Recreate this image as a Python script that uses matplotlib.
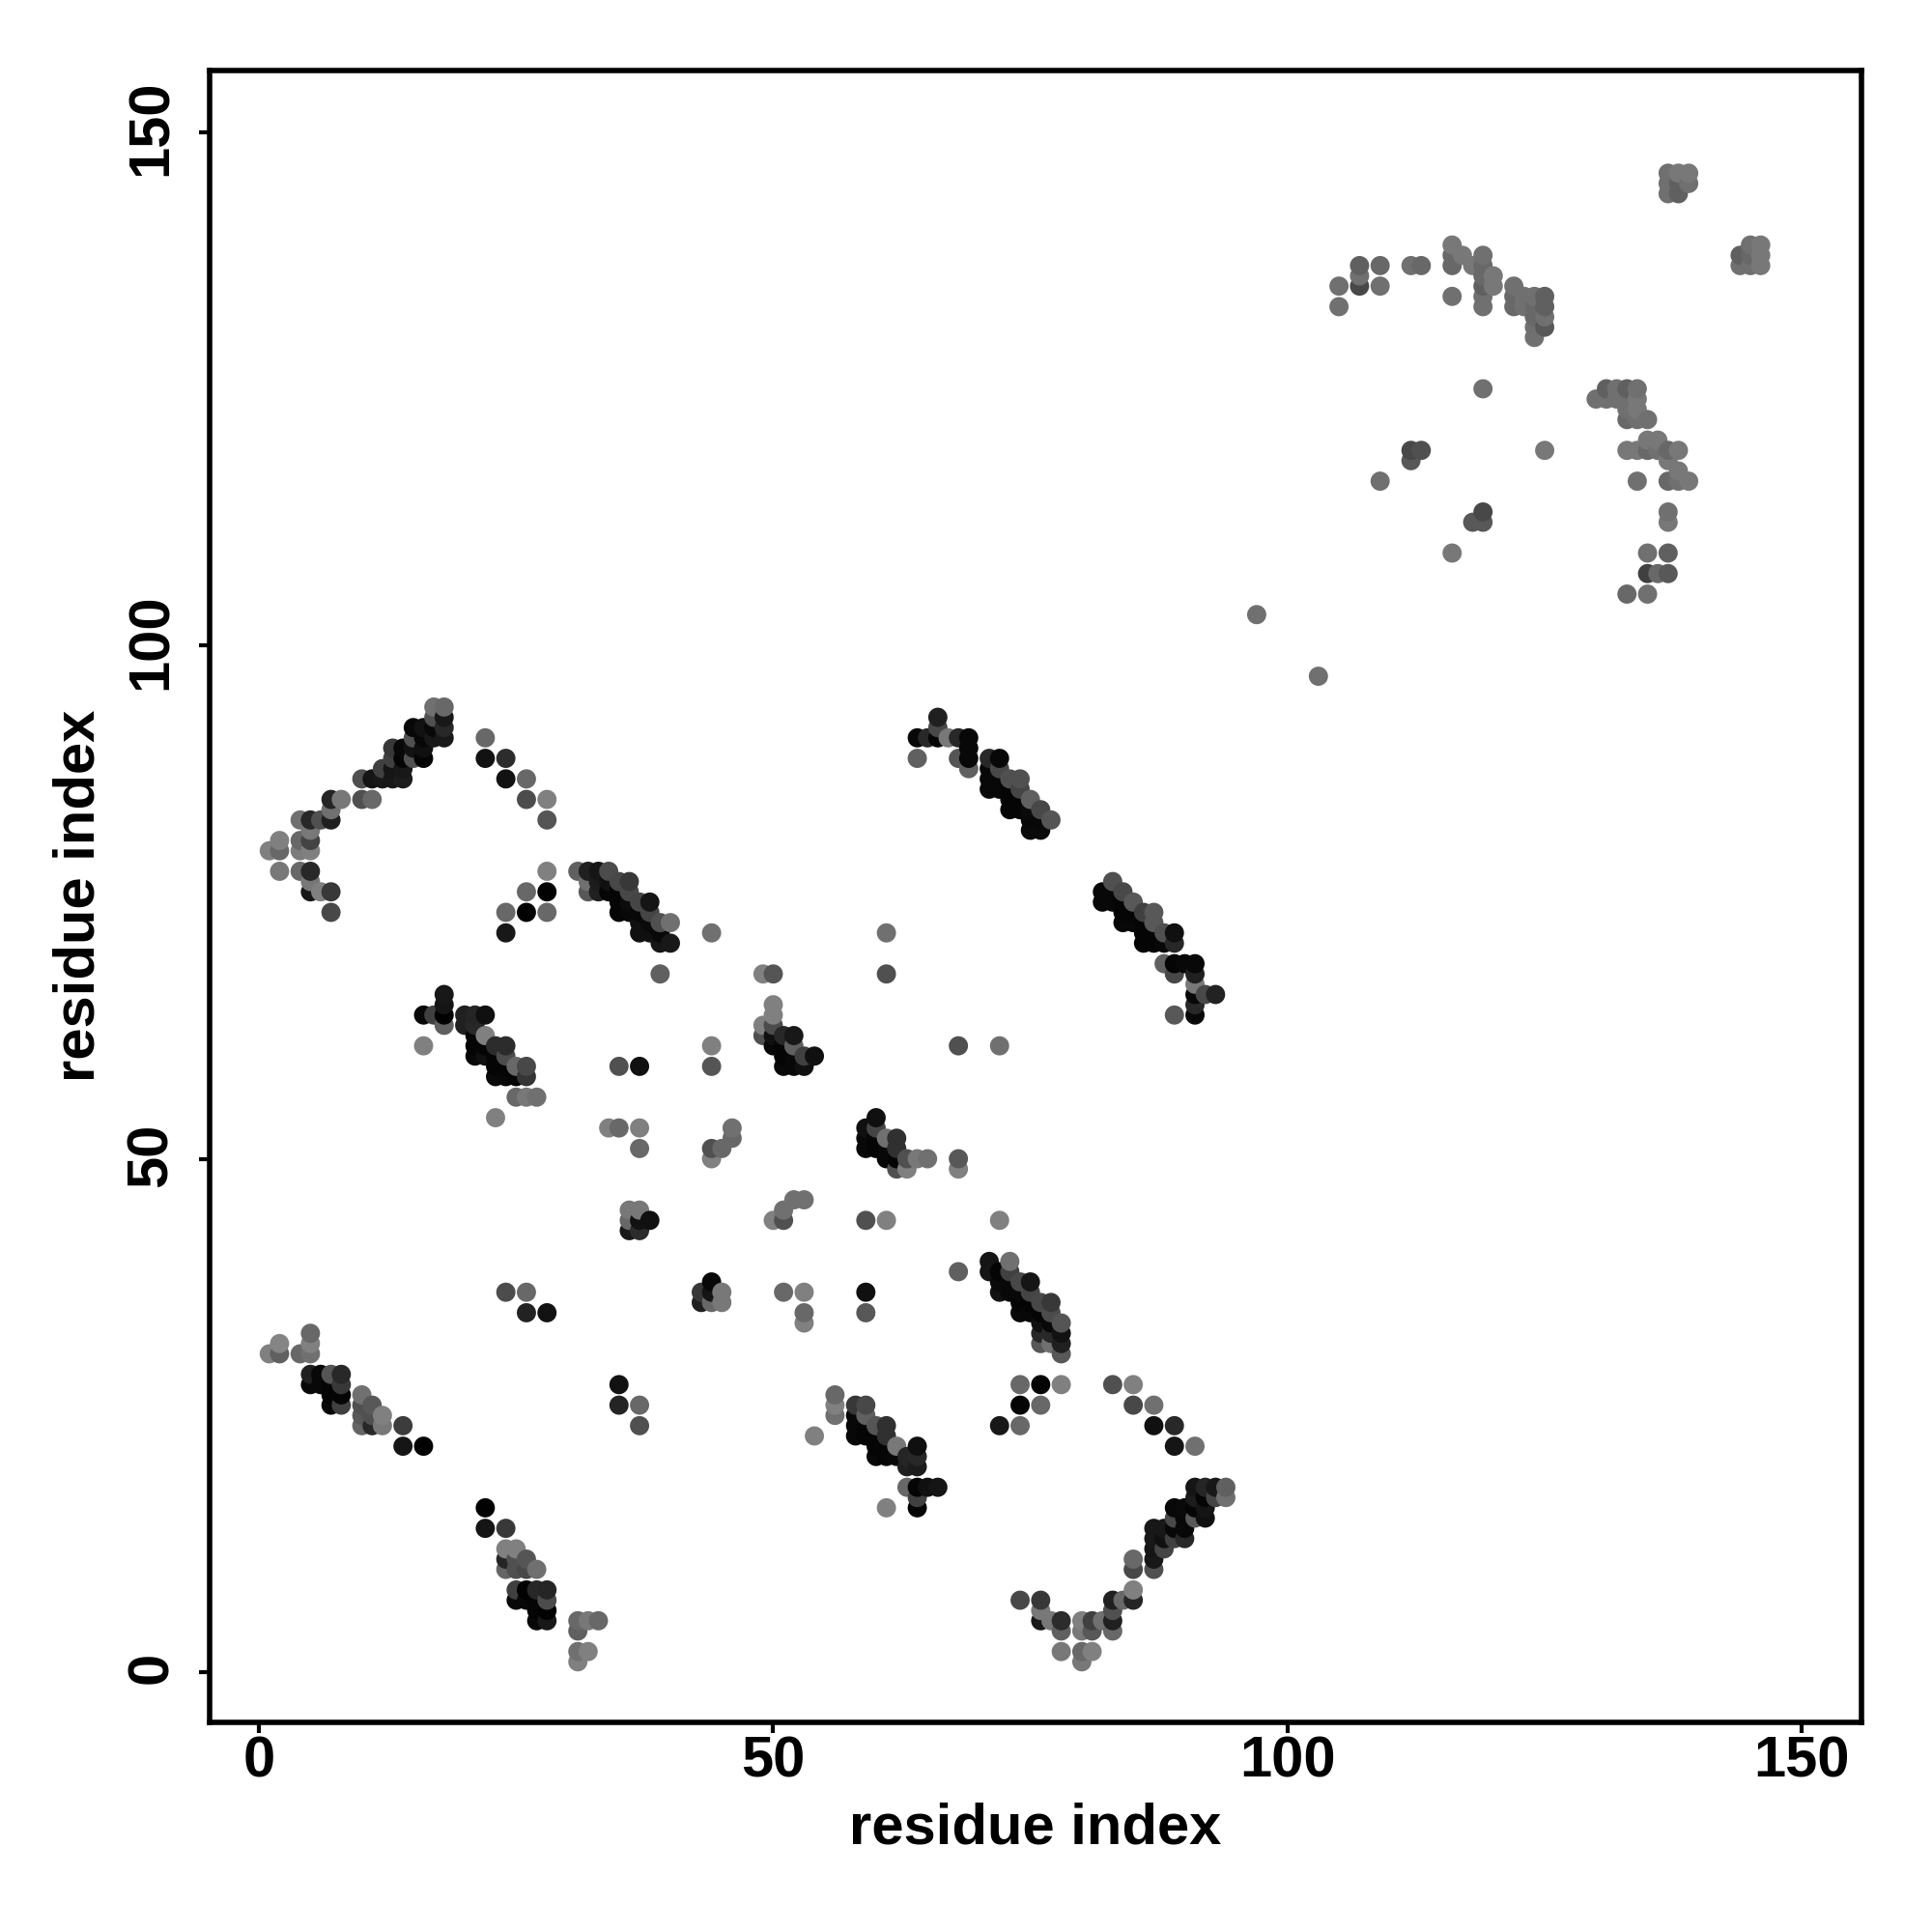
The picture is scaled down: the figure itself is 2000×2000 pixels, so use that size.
import matplotlib
matplotlib.use('Agg')
import matplotlib.pyplot as plt
from matplotlib.transforms import ScaledTranslation
import numpy as np

plt.rcParams['font.family'] = ['Liberation Sans', 'DejaVu Sans']

# contacts: (residue i, residue j, gray level 0-255)
# bottom left strand
strand_a = [(1,31,0x80),(2,32,0x85),(2,31,0x60),(4,31,0x68),(5,33,0x68),(5,32,0x80),(5,31,0x70),
    (5,29,0x20),(6,29,0x08),(7,29,0x55),(8,29,0x28),(5,28,0x08),(6,28,0x08),(7,28,0x05),(8,28,0x38),
    (7,27,0x05),(8,27,0x05),(7,26,0x08),(8,26,0x40),(10,27,0x70),(11,26,0x58),(10,26,0x50),
    (10,25,0x58),(10,24,0x65),(11,25,0x50),(11,24,0x28),(12,25,0x80),(12,24,0x78),
    (14,24,0x3c),(14,22,0x15),(16,22,0x02)]
strand_b = [(22,16,0x02),(22,14,0x15),(24,14,0x38),(24,12,0x80),(25,12,0x80),(26,11,0x55),(27,10,0x70),
    (24,11,0x25),(25,11,0x50),(24,10,0x65),(25,10,0x50),(26,10,0x48),
    (25,8,0x40),(26,8,0x02),(27,8,0x28),(28,8,0x25),(25,7,0x08),(26,7,0x08),(27,7,0x05),(28,7,0x4c),
    (27,6,0x05),(28,6,0x02),(27,5,0x08),(28,5,0x18),(31,5,0x68),(32,5,0x78),(33,5,0x68),(31,4,0x60),
    (31,2,0x70),(32,2,0x80),(31,1,0x80)]
singles_low = [(24,37,0x4c),(26,37,0x68),(26,35,0x22),(28,35,0x12),(35,28,0x12),(35,26,0x24),(37,26,0x68),(37,24,0x50)]

# upper left arc
strand_c = [(2,78,0x78),(1,80,0x80),(2,81,0x80),(2,80,0x68),(4,81,0x68),(4,80,0x7c),(5,80,0x80),(5,81,0x44),(5,82,0x78),
    (4,83,0x70),(5,83,0x28),(6,83,0x50),(7,83,0x20),(7,84,0x70),(7,85,0x25),(8,85,0x78),
    (4,78,0x68),(5,78,0x28),(5,77,0x78),(5,76,0x18),(6,76,0x80),(7,76,0x38),(7,74,0x48),
    (10,85,0x50),(11,85,0x68),(10,87,0x50),(11,87,0x15),(12,87,0x18),(13,87,0x18),(14,87,0x1c),
    (12,88,0x40),(13,88,0x15),(14,88,0x18),(13,89,0x40),(14,89,0x05),(15,89,0x50),(16,89,0x05),
    (13,90,0x38),(14,90,0x08),(15,90,0x12),(16,90,0x10),(15,91,0x50),(16,91,0x08),(17,91,0x18),(18,91,0x18),
    (15,92,0x08),(16,92,0x12),(17,92,0x08),(18,92,0x28),(17,93,0x50),(18,93,0x18),(17,94,0x70),(18,94,0x68)]
singles_arc = [(22,91,0x68),(22,89,0x12),(24,89,0x2c),(24,87,0x12),(26,87,0x68),(26,85,0x4c),(28,85,0x80),(28,83,0x55),
    (28,78,0x80),(26,76,0x68),(28,76,0x02),(24,74,0x68),(26,74,0x02),(28,74,0x68),(24,72,0x18)]
strand_d = [(31,78,0x60),(32,78,0x20),(33,78,0x15),(34,78,0x4c),(36,77,0x38),(32,77,0x70),(32,76,0x58),(33,77,0x1c),(33,76,0x20),
    (34,77,0x10),(35,77,0x48),(34,76,0x05),(35,76,0x05),(36,76,0x48),(35,75,0x05),(36,75,0x0c),(37,75,0x45),(38,75,0x15),
    (35,74,0x05),(36,74,0x08),(37,74,0x08),(38,74,0x45),(37,73,0x10),(38,73,0x0a),(39,73,0x50),(40,73,0x70),
    (37,72,0x10),(38,72,0x10),(39,72,0x08),(39,71,0x15),(40,71,0x18),(39,68,0x60),(44,72,0x70)]

# middle
strand_e = [(16,64,0x08),(17,64,0x40),(18,64,0x02),(18,65,0x15),(18,66,0x18),(18,63,0x60),(16,61,0x80),
    (20,64,0x20),(21,64,0x25),(22,64,0x10),(20,63,0x20),(21,63,0x28),(22,62,0x80),(21,62,0x05),
    (21,61,0x05),(22,61,0x05),(23,61,0x2c),(24,61,0x2c),(21,60,0x08),(22,60,0x10),(23,60,0x05),(24,60,0x4c),
    (23,59,0x05),(24,59,0x05),(25,59,0x68),(26,59,0x48),(23,58,0x0a),(24,58,0x08),(25,58,0x05),(26,58,0x35),
    (25,56,0x68),(26,56,0x78),(27,56,0x70),(23,54,0x80)]
strand_f = [(49,68,0x80),(50,68,0x55),(50,65,0x80),(50,64,0x80),(50,63,0x4c),(49,63,0x80),(49,62,0x50),
    (50,62,0x10),(51,62,0x28),(52,62,0x18),(50,61,0x08),(51,61,0x05),(52,61,0x60),
    (51,60,0x05),(52,60,0x08),(53,60,0x40),(54,60,0x10),(51,59,0x0a),(52,59,0x08),(53,59,0x10)]
singles_mid = [(35,59,0x50),(37,59,0x10),(44,61,0x80),(44,59,0x55),(34,53,0x80),(35,53,0x68),(37,53,0x80),(37,51,0x68),
    (44,51,0x50),(44,50,0x80),(45,51,0x68),(46,52,0x68),(46,53,0x70),
    (36,45,0x78),(37,45,0x78),(36,44,0x68),(37,44,0x12),(38,44,0x10),(36,43,0x18),(37,43,0x2c),
    (50,44,0x80),(51,44,0x50),(51,45,0x70),(52,46,0x70),(53,46,0x70),
    (59,44,0x50),(61,44,0x80),(72,44,0x80),(68,39,0x60),(61,72,0x70),(61,68,0x50),(68,61,0x50),(72,61,0x70),
    (44,38,0x08),(43,37,0x38),(44,37,0x15),(45,37,0x78),(43,36,0x20),(44,36,0x68),(45,36,0x78),
    (51,37,0x68),(53,37,0x80),(53,35,0x68),(53,34,0x80),(59,37,0x10),(59,35,0x58),(68,50,0x58),(68,49,0x80)]
strand_g = [(60,54,0x10),(59,53,0x10),(60,53,0x45),(59,52,0x08),(60,52,0x05),(61,52,0x70),(62,52,0x30),
    (59,51,0x08),(60,51,0x05),(61,51,0x08),(62,51,0x30),(61,50,0x08),(62,50,0x05),(63,50,0x50),(64,50,0x78),(65,50,0x70),
    (62,49,0x50),(63,49,0x80)]

# lower right of the middle
strand_h = [(71,40,0x15),(71,39,0x15),(73,40,0x70),(73,39,0x40),(72,39,0x05),(72,38,0x0a),(73,38,0x08),(74,38,0x48),(75,38,0x15),
    (72,37,0x12),(73,37,0x08),(74,37,0x08),(75,37,0x45),(74,36,0x05),(75,36,0x05),(76,36,0x48),(77,36,0x38),
    (74,35,0x0a),(75,35,0x08),(76,35,0x05),(77,35,0x4c),(76,34,0x10),(77,34,0x08),(78,34,0x55),
    (76,33,0x28),(77,33,0x28),(78,33,0x12),(76,32,0x58),(77,32,0x70),(78,32,0x20),(78,31,0x58)]
singles_right = [(74,28,0x68),(76,28,0x05),(78,28,0x80),(74,26,0x05),(76,26,0x68),(72,24,0x18),(74,24,0x68),
    (83,28,0x50),(85,28,0x80),(85,26,0x48),(87,26,0x70),(87,24,0x10),(89,24,0x28),(89,22,0x15),(91,22,0x70)]
strand_i = [(56,27,0x68),(56,26,0x80),(56,25,0x70),(54,23,0x80),(58,26,0x38),(59,26,0x48),(58,25,0x08),(59,25,0x60),
    (58,24,0x08),(59,24,0x05),(60,24,0x55),(61,24,0x30),(58,23,0x08),(59,23,0x05),(60,23,0x05),(61,23,0x30),
    (60,22,0x05),(61,22,0x05),(62,22,0x78),(64,22,0x10),(60,21,0x08),(61,21,0x05),(62,21,0x08),(63,21,0x25),(64,21,0x28),
    (63,20,0x20),(64,20,0x1c),(63,18,0x68),(64,18,0x05),(65,18,0x10),(66,18,0x15),(64,17,0x40),(64,16,0x05),(61,16,0x80)]

# bottom right arc
strand_j = [(91,18,0x15),(92,18,0x25),(93,18,0x18),(94,18,0x60),(91,17,0x1c),(92,17,0x05),(93,17,0x45),(94,17,0x70),
    (89,16,0x08),(90,16,0x0a),(91,16,0x05),(92,16,0x15),(89,15,0x48),(90,15,0x08),(91,15,0x58),(92,15,0x10),
    (87,14,0x18),(88,14,0x18),(89,14,0x08),(90,14,0x08),(87,13,0x18),(88,13,0x10),(89,13,0x40),(90,13,0x28),
    (87,12,0x15),(88,12,0x45),(85,11,0x68),(87,11,0x18),(85,10,0x48),(87,10,0x50),
    (85,8,0x80),(83,7,0x20),(84,7,0x68),(85,7,0x25),(74,7,0x48),(76,7,0x38),(76,6,0x78),(77,5,0x78),(76,5,0x18),(78,5,0x2c),(78,4,0x60),
    (80,5,0x80),(81,5,0x40),(82,5,0x70),(83,5,0x20),(83,6,0x50),(80,4,0x78),(81,4,0x58),(83,4,0x68),
    (78,2,0x78),(80,2,0x68),(81,2,0x80),(80,1,0x78)]

# upper middle strands
strand_k = [(66,93,0x20),(66,92,0x48),(64,91,0x08),(65,91,0x28),(66,91,0x05),(67,91,0x78),(68,91,0x28),(69,91,0x08),
    (69,90,0x08),(69,89,0x08),(68,89,0x55),(64,89,0x60),(69,88,0x60),(71,89,0x28),(72,89,0x08),(71,88,0x08),(72,88,0x48),
    (71,87,0x08),(72,87,0x08),(73,87,0x50),(74,87,0x50),(71,86,0x08),(72,86,0x08),(73,86,0x05),(74,86,0x45),
    (73,85,0x05),(74,85,0x05),(75,85,0x60),(73,84,0x05),(74,84,0x05),(75,84,0x0a),(76,84,0x48),
    (75,83,0x08),(76,83,0x08),(77,83,0x55),(75,82,0x0a),(76,82,0x0a)]
strand_l = [(83,77,0x50),(82,76,0x08),(83,76,0x08),(84,76,0x48),(82,75,0x08),(83,75,0x08),(84,75,0x05),(85,75,0x58),
    (84,74,0x05),(85,74,0x05),(86,74,0x40),(87,74,0x58),(84,73,0x08),(85,73,0x08),(86,73,0x05),(87,73,0x58),
    (86,72,0x05),(87,72,0x05),(88,72,0x50),(89,72,0x10),(86,71,0x05),(87,71,0x05),(88,71,0x08),(89,71,0x28),
    (88,69,0x60),(89,69,0x05),(90,69,0x08),(91,69,0x08),(89,68,0x48),(91,68,0x20),(91,67,0x78),
    (91,66,0x08),(92,66,0x48),(93,66,0x22),(91,65,0x28),(91,64,0x08),(89,64,0x58)]

# weak contacts, top right
weak_top = [(105,135,0x70),(105,133,0x70),(107,137,0x60),(107,136,0x70),(107,135,0x48),(109,137,0x68),(109,135,0x70),
    (112,137,0x70),(113,137,0x68),(116,139,0x78),(116,138,0x68),(116,137,0x68),(116,134,0x70),(117,138,0x78),(118,137,0x78),
    (119,138,0x70),(119,137,0x68),(119,136,0x68),(119,135,0x60),(119,134,0x70),(119,133,0x70),(120,136,0x78),(120,135,0x78),
    (122,135,0x70),(122,134,0x68),(122,133,0x68),(123,134,0x70),(123,133,0x70),(124,134,0x70),(124,133,0x68),(124,132,0x68),(124,131,0x70),(124,130,0x70),
    (125,134,0x60),(125,133,0x60),(125,132,0x70),(125,131,0x58),
    (137,146,0x70),(138,146,0x78),(139,146,0x78),(137,145,0x70),(138,145,0x60),(139,145,0x70),(137,144,0x70),(138,144,0x60),
    (145,139,0x70),(146,139,0x78),(144,138,0x60),(145,138,0x68),(146,138,0x78),(144,137,0x70),(145,137,0x70),(146,137,0x78)]
weak_low = [(97,103,0x70),(103,97,0x70),(119,125,0x70),(112,119,0x48),(113,119,0x50),(112,118,0x58),(109,116,0x70),(125,119,0x78),
    (119,113,0x48),(118,112,0x58),(119,112,0x58),(116,109,0x78),
    (130,124,0x70),(131,125,0x60),(131,124,0x70),(132,125,0x70),(132,124,0x70),(133,125,0x60),(133,124,0x70),(134,125,0x70),(134,124,0x78),
    (133,123,0x70),(134,123,0x78),(133,122,0x68),(134,122,0x70),(135,122,0x70),
    (133,119,0x78),(134,119,0x78),(135,119,0x68),(135,120,0x78),(136,120,0x78),(136,119,0x70),(137,119,0x68),(138,119,0x78),
    (137,118,0x78),(138,117,0x78),(134,116,0x70),(137,116,0x68),(138,116,0x70),(139,116,0x78),
    (137,113,0x70),(137,112,0x78),(135,109,0x70),(137,109,0x60),(135,107,0x40),(136,107,0x68),(137,107,0x58),(133,105,0x68),(135,105,0x70)]

x_ticks = [0, 50, 100, 150]
y_ticks = [0, 50, 100, 150]
axis_label = 'residue index'

contacts = np.array(strand_a + strand_b + singles_low + strand_c + singles_arc + strand_d + strand_e + strand_f
                    + singles_mid + strand_g + strand_h + singles_right + strand_i + strand_j + strand_k + strand_l
                    + weak_top + weak_low, dtype=float)
# later residues sit on top, same as the reference
contacts = contacts[np.lexsort((contacts[:, 1], contacts[:, 0]))]
colors = [(g / 255, g / 255, g / 255) for g in contacts[:, 2]]

fig = plt.figure(figsize=(20, 20), dpi=100)
ax = fig.add_axes([217 / 2000, 1 - 1783 / 2000, (1927 - 217) / 2000, (1783 - 73) / 2000])
ax.scatter(contacts[:, 0], contacts[:, 1], c=colors, s=205, linewidths=0, zorder=2)

ax.set_xlim(-4.8, 155.8)
ax.set_ylim(-4.9, 156)
ax.set_xticks(x_ticks)
ax.set_yticks(y_ticks)
for s in ax.spines.values():
    s.set_linewidth(4)
ax.tick_params(axis='both', length=8, width=3, direction='out')
ax.tick_params(axis='x', labelsize=43, pad=2)
ax.tick_params(axis='y', labelsize=43, pad=15)
for t in ax.get_xticklabels():
    t.set_fontweight('bold')
# rotated labels sit a little low, nudge them up
nudge = ScaledTranslation(0, 3 / 72, fig.dpi_scale_trans)
for t in ax.get_yticklabels():
    t.set_fontweight('bold')
    t.set_rotation(90)
    t.set_va('center')
    t.set_transform(t.get_transform() + nudge)

fig.text(1072 / 2000, 1 - 1893 / 2000, axis_label, fontsize=43, fontweight='bold', ha='center', va='center')
fig.text(82 / 2000, 1 - 927 / 2000, axis_label, fontsize=43, fontweight='bold', ha='center', va='center', rotation=90)

fig.savefig('out.png', dpi=100)
